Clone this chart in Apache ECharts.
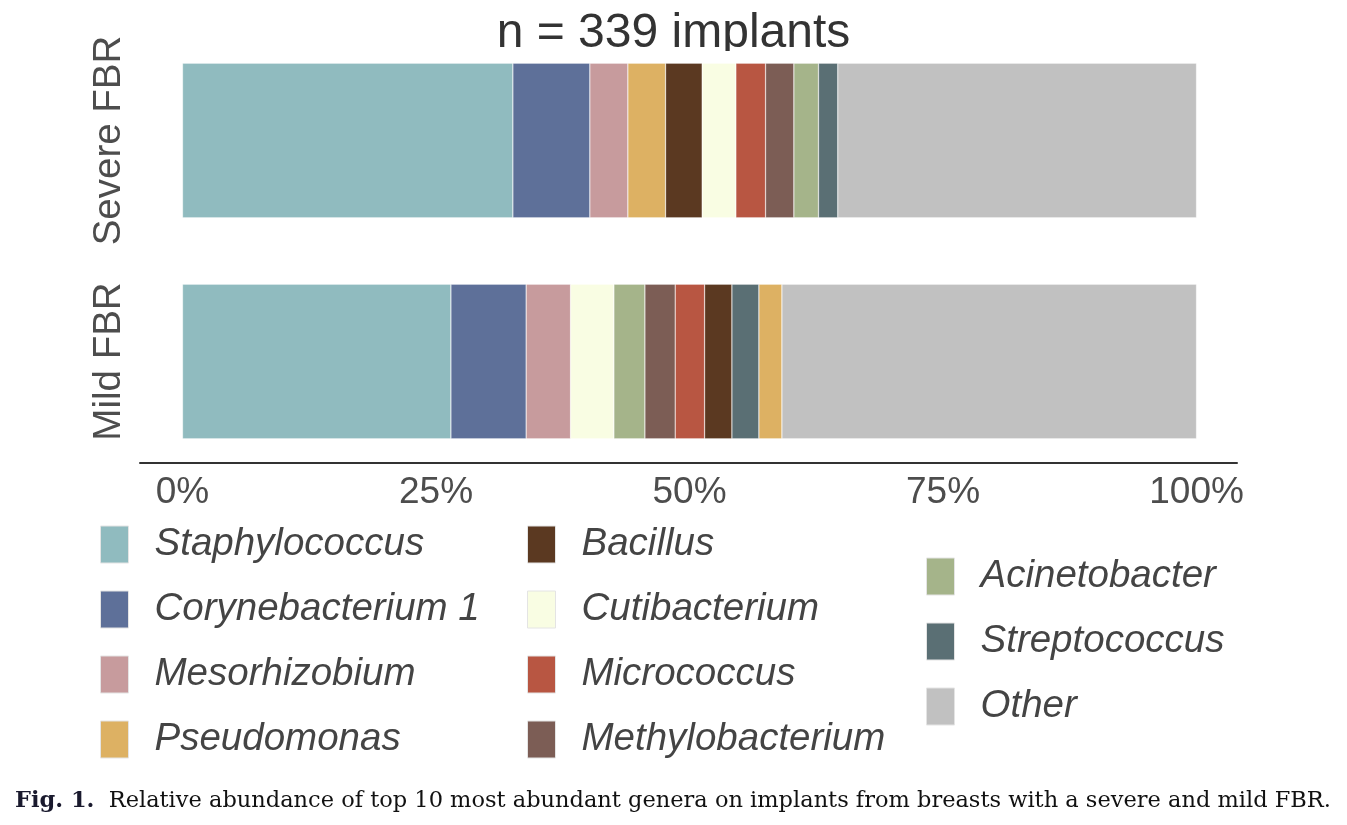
<!DOCTYPE html>
<html>
<head>
<meta charset="utf-8">
<script src="https://cdn.jsdelivr.net/npm/echarts@6/dist/echarts.min.js"></script>
<style>
html,body{margin:0;padding:0;background:#fff;}
#chart{width:1347px;height:825px;}
</style>
</head>
<body>
<div id="chart"></div>
<script>
// ---- data ----
const categories = ['Mild FBR', 'Severe FBR'];
const genera = ['Staphylococcus','Corynebacterium 1','Mesorhizobium','Pseudomonas','Bacillus','Cutibacterium','Micrococcus','Methylobacterium','Acinetobacter','Streptococcus','Other'];
const generaColors = ['#90BBBF','#5E7099','#C79B9D','#DDB163','#5B3921','#F9FDE3','#B85642','#7C5D55','#A5B48A','#5A6F74','#C1C1C1'];

// stacking order and values (%) per group, left to right
const severeOrder  = ['Staphylococcus','Corynebacterium 1','Mesorhizobium','Pseudomonas','Bacillus','Cutibacterium','Micrococcus','Methylobacterium','Acinetobacter','Streptococcus','Other'];
const severeValues = [32.58, 7.59, 3.75, 3.72, 3.61, 3.32, 2.93, 2.79, 2.43, 1.90, 35.38];
const mildOrder    = ['Staphylococcus','Corynebacterium 1','Mesorhizobium','Cutibacterium','Acinetobacter','Methylobacterium','Micrococcus','Bacillus','Streptococcus','Pseudomonas','Other'];
const mildValues   = [26.47, 7.42, 4.38, 4.27, 3.06, 2.99, 2.90, 2.69, 2.66, 2.27, 40.89];

const tickValues = [0, 25, 50, 75, 100];
const legendCol1 = ['Staphylococcus','Corynebacterium 1','Mesorhizobium','Pseudomonas'];
const legendCol2 = ['Bacillus','Cutibacterium','Micrococcus','Methylobacterium'];
const legendCol3 = ['Acinetobacter','Streptococcus','Other'];
const titleText = 'n = 339 implants';
const captionBold = 'Fig. 1.';
const captionText = 'Relative abundance of top 10 most abundant genera on implants from breasts with a severe and mild FBR.';

// ---- build ----
const FONT = 'Liberation Sans';
const colorOf = name => generaColors[genera.indexOf(name)];
const series = [];
severeOrder.forEach((g, i) => {
  series.push({
    name: g, type: 'bar', stack: 'all', barWidth: '70%',
    itemStyle: { color: colorOf(g), borderColor: 'rgba(255,255,255,0.45)', borderWidth: 0.6 },
    emphasis: { disabled: true },
    data: ['-', severeValues[i]]
  });
});
mildOrder.forEach((g, i) => {
  series.push({
    name: g, type: 'bar', stack: 'all', barWidth: '70%',
    itemStyle: { color: colorOf(g), borderColor: 'rgba(255,255,255,0.45)', borderWidth: 0.6 },
    emphasis: { disabled: true },
    data: [mildValues[i], '-']
  });
});

const legendBase = {
  orient: 'vertical', padding: 0, itemGap: 26, itemWidth: 28, itemHeight: 37,
  selectedMode: false, icon: 'rect',
  itemStyle: { borderColor: '#e4e4e4', borderWidth: 1 },
  textStyle: { fontFamily: FONT, fontStyle: 'italic', fontSize: 38.5, color: '#444', lineHeight: 33, padding: [4, 0, 0, 21] }
};

const chart = echarts.init(document.getElementById('chart'), null, { renderer: 'canvas' });
chart.setOption({
  animation: false,
  backgroundColor: '#fff',
  title: {
    text: titleText, left: 'center', top: 10, padding: 0,
    textStyle: { fontFamily: FONT, fontSize: 48, fontWeight: 'normal', color: '#333', lineHeight: 48 }
  },
  grid: { left: 140, right: 110, top: 30, height: 442, containLabel: false },
  xAxis: {
    type: 'value', min: -4.19, max: 103.99, offset: -9,
    axisLine: { show: true, lineStyle: { color: '#333', width: 2 } },
    axisTick: { show: false },
    splitLine: { show: false },
    axisLabel: {
      customValues: tickValues, formatter: '{value}%', margin: 11,
      fontFamily: FONT, fontSize: 37, color: '#4D4D4D', lineHeight: 38
    }
  },
  yAxis: {
    type: 'category', data: categories,
    axisLine: { show: false }, axisTick: { show: false }, splitLine: { show: false },
    axisLabel: { interval: 0, hideOverlap: false, rotate: 90, margin: 12, fontFamily: FONT, fontSize: 38.5, color: '#4D4D4D', lineHeight: 38 }
  },
  legend: [
    Object.assign({}, legendBase, { left: 100, top: 525, data: legendCol1 }),
    Object.assign({}, legendBase, { left: 527, top: 525, data: legendCol2 }),
    Object.assign({}, legendBase, { left: 926, top: 557, data: legendCol3 })
  ],
  graphic: [
    { type: 'rect', left: 300, top: 51, z: 100, shape: { width: 800, height: 11 }, style: { fill: '#fff' } },
    {
      type: 'text', left: 15, top: 790, z: 100,
      style: {
        text: '{b|' + captionBold + '}  ' + captionText,
        fontFamily: 'DejaVu Serif', fontSize: 22.5, fill: '#111',
        rich: { b: { fontFamily: 'DejaVu Serif', fontSize: 22.5, fontWeight: 'bold', fill: '#1a1a2e' } }
      }
    }
  ],
  series: series
});
</script>
</body>
</html>
